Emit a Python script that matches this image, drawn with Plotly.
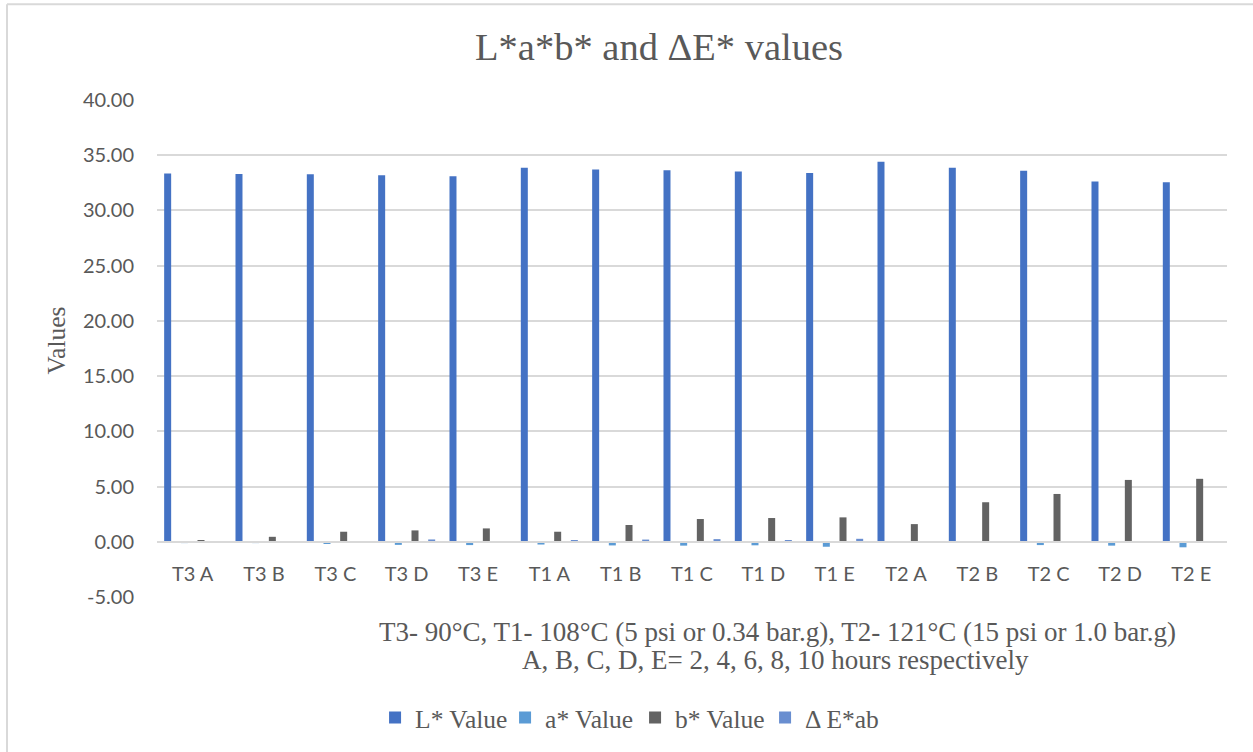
import plotly.graph_objects as go

# Sample codes: temperature group + exposure time
categories = ["T3 A", "T3 B", "T3 C", "T3 D", "T3 E",
              "T1 A", "T1 B", "T1 C", "T1 D", "T1 E",
              "T2 A", "T2 B", "T2 C", "T2 D", "T2 E"]

l_values = [33.35, 33.30, 33.27, 33.18, 33.09,
            33.86, 33.71, 33.65, 33.53, 33.38,
            34.40, 33.87, 33.60, 32.63, 32.55]
a_values = [-0.12, -0.12, -0.20, -0.28, -0.30,
            -0.25, -0.33, -0.35, -0.32, -0.45,
            -0.05, -0.10, -0.30, -0.35, -0.50]
b_values = [0.10, 0.45, 0.91, 1.03, 1.21,
            0.91, 1.52, 2.06, 2.15, 2.21,
            1.60, 3.58, 4.33, 5.60, 5.70]
de_values = [0.05, 0.03, 0.05, 0.21, 0.02,
             0.15, 0.20, 0.24, 0.15, 0.27,
             0.00, 0.00, 0.03, 0.03, 0.03]

y_ticks = [-5, 0, 5, 10, 15, 20, 25, 30, 35, 40]
y_tick_text = [f"{v:.2f}" for v in y_ticks]

series = [
    ("L* Value", l_values, "#4472C4"),
    ("a* Value", a_values, "#5B9BD5"),
    ("b* Value", b_values, "#636363"),
    ("\u0394 E*ab", de_values, "#698ED0"),
]

TEXT = "#595959"
GRID = "#D9D9D9"
SERIF = "Liberation Serif, Times New Roman, serif"
SANS = "Lato, Carlito, sans-serif"

fig = go.Figure()
for name, vals, color in series:
    fig.add_trace(go.Bar(x=categories, y=vals, name=name,
                         marker=dict(color=color, line=dict(width=0))))

fig.update_layout(
    width=1253, height=752,
    margin=dict(l=157, r=26, t=100, b=154),
    paper_bgcolor="white", plot_bgcolor="white",
    barmode="group", bargap=0.065, bargroupgap=0.58,
    title=dict(text="L*a*b* and \u0394E* values", xref="container", x=0.526,
               xanchor="center", yref="container", y=1 - 47 / 752, yanchor="middle",
               font=dict(family=SERIF, size=38.5, color=TEXT)),
    showlegend=True,
    legend=dict(orientation="h", x=0.2038, xanchor="left", y=-0.241, yanchor="middle",
                font=dict(family=SERIF, size=25.5, color=TEXT),
                entrywidth=85, entrywidthmode="pixels",
                bgcolor="rgba(0,0,0,0)"),
    xaxis=dict(anchor="free", position=1 / 9, showline=True, linecolor=GRID, linewidth=1.5,
               showgrid=False, ticks="", ticklabelstandoff=14,
               tickfont=dict(family=SANS, size=20, color=TEXT)),
    yaxis=dict(range=[-5, 40], tickvals=y_ticks, ticktext=y_tick_text,
               showgrid=True, gridcolor=GRID, gridwidth=1.5, zeroline=False,
               ticks="", ticklabelstandoff=22,
               tickfont=dict(family=SANS, size=20, color=TEXT)),
)

# Axis titles
fig.add_annotation(text="Values", xref="paper", yref="paper", x=(57 - 157) / 1070,
                   y=(598 - 341) / 498, textangle=-90, showarrow=False,
                   xanchor="center", yanchor="middle",
                   font=dict(family=SERIF, size=25.5, color=TEXT))
fig.add_annotation(text="T3- 90\u00b0C, T1- 108\u00b0C (5 psi or 0.34 bar.g), T2- 121\u00b0C (15 psi or 1.0 bar.g)",
                   xref="paper", yref="paper", x=(777 - 157) / 1070, y=(598 - 633) / 498,
                   showarrow=False, xanchor="center", yanchor="middle",
                   font=dict(family=SERIF, size=27, color=TEXT))
fig.add_annotation(text="A, B, C, D, E= 2, 4, 6, 8, 10 hours respectively",
                   xref="paper", yref="paper", x=(775 - 157) / 1070, y=(598 - 661) / 498,
                   showarrow=False, xanchor="center", yanchor="middle",
                   font=dict(family=SERIF, size=27, color=TEXT))

# Chart frame (left and top edges)
x_left = (7 - 157) / 1070
y_top = (598 - 4) / 498
fig.add_shape(type="line", xref="paper", yref="paper", x0=x_left, x1=x_left,
              y0=y_top, y1=-0.35, line=dict(color=GRID, width=2))
fig.add_shape(type="line", xref="paper", yref="paper", x0=x_left, x1=1.05,
              y0=y_top, y1=y_top, line=dict(color=GRID, width=2))

fig.write_html("out.html")
